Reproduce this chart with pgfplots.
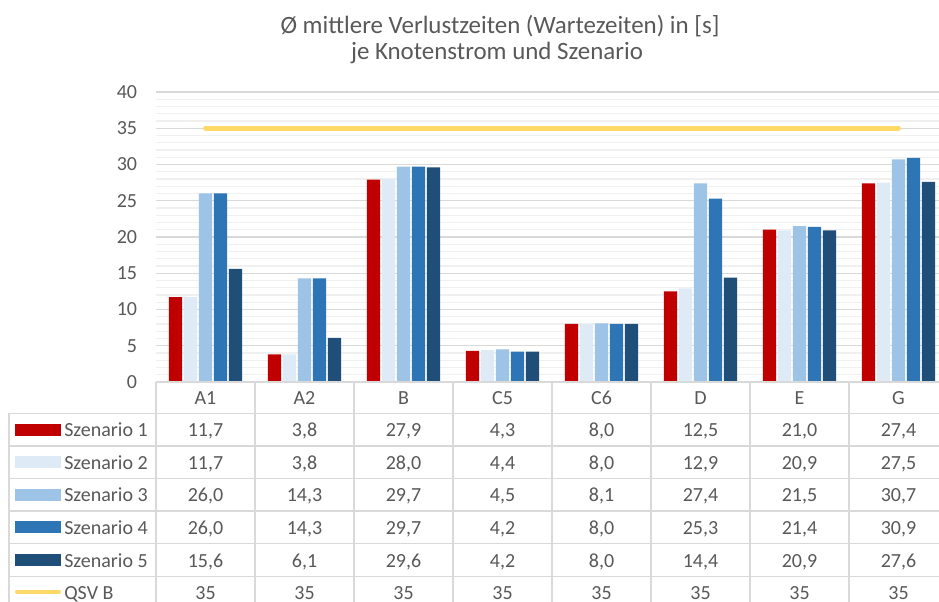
\documentclass[border=0pt]{standalone}
\usepackage{fontspec}
\setmainfont{Carlito}
\usepackage{pgfplots}
\usepackage{pgfplotstable}
\pgfplotsset{compat=1.18}
\definecolor{sA}{HTML}{C00000}
\definecolor{sB}{HTML}{DEEBF7}
\definecolor{sC}{HTML}{9DC3E6}
\definecolor{sD}{HTML}{2E75B6}
\definecolor{sE}{HTML}{1F4E79}
\definecolor{qsv}{HTML}{FFD966}
\definecolor{txt}{HTML}{595959}
\definecolor{gridc}{HTML}{D9D9D9}
\definecolor{mgridc}{HTML}{F0F0F0}

\pgfplotstableread{
x s1 s2 s3 s4 s5 q
0 11.7 11.7 26.0 26.0 15.6 35
1 3.8 3.8 14.3 14.3 6.1 35
2 27.9 28.0 29.7 29.7 29.6 35
3 4.3 4.4 4.5 4.2 4.2 35
4 8.0 8.0 8.1 8.0 8.0 35
5 12.5 12.9 27.4 25.3 14.4 35
6 21.0 20.9 21.5 21.4 20.9 35
7 27.4 27.5 30.7 30.9 27.6 35
}\datatable

\begin{document}
\begin{tikzpicture}
\clip (0pt,0pt) rectangle (704.25pt,-451.5pt);
\fill[white] (0pt,0pt) rectangle (704.25pt,-451.5pt);
\begin{axis}[
  at={(117pt,-286.5pt)}, anchor=south west,
  scale only axis, width=594pt, height=217.5pt,
  xmin=-0.5, xmax=7.5, ymin=0, ymax=40,
  xtick=\empty,
  ytick={0,5,...,40},
  minor y tick num=4,
  ymajorgrids, yminorgrids,
  major grid style={draw=gridc, line width=0.9pt},
  minor grid style={draw=mgridc, line width=0.9pt},
  axis line style={draw=none},
  tick style={draw=none},
  /pgf/number format/assume math mode=true,
  yticklabel style={font=\fontsize{15}{18}\selectfont, text=txt, anchor=east, inner sep=0pt, xshift=-14pt},
  ybar=1.25pt, bar width=10pt,
  clip=false,
]
\addplot[fill=sA, draw=none] table[x=x, y=s1] {\datatable};
\addplot[fill=sB, draw=none] table[x=x, y=s2] {\datatable};
\addplot[fill=sC, draw=none] table[x=x, y=s3] {\datatable};
\addplot[fill=sD, draw=none] table[x=x, y=s4] {\datatable};
\addplot[fill=sE, draw=none] table[x=x, y=s5] {\datatable};
\addplot[sharp plot, draw=qsv, line width=3.6pt, line cap=round, mark=none] table[x=x, y=q] {\datatable};
\end{axis}
\begin{scope}[x=0.75pt, y=-0.75pt]
  % title
  \node[anchor=base, text=txt, font=\fontsize{18.7}{22}\selectfont] at (500,33.3) {Ø mittlere Verlustzeiten (Wartezeiten) in [s]};
  \node[anchor=base, text=txt, font=\fontsize{18.7}{22}\selectfont] at (497,60) {je Knotenstrom und Szenario};
  % table lines
  \begin{scope}[draw=gridc, line width=1pt]
    \draw (156,382) -- (948,382);
    \foreach \yy in {413.3,446,478.5,511,543.7,576.3} \draw (9,\yy) -- (948,\yy);
    \foreach \k in {0,...,8} \draw (156+99*\k,382) -- (156+99*\k,610);
    \draw (9,413.3) -- (9,610);
  \end{scope}
  % header
  \foreach \n [count=\i from 0] in {A1,A2,B,C5,C6,D,E,G}
    \node[anchor=base, text=txt, font=\fontsize{15}{18}\selectfont, inner sep=0pt] at (205.5+99*\i,404.3) {\n};
  % legend keys and row names
  \foreach \c/\nm [count=\r from 0] in {sA/Szenario 1,sB/Szenario 2,sC/Szenario 3,sD/Szenario 4,sE/Szenario 5}{
    \fill[\c] (15,429.6+32.6*\r-6) rectangle (61,429.6+32.6*\r+6);
    \node[anchor=base west, text=txt, font=\fontsize{15}{18}\selectfont, inner sep=0pt] at (64,429.6+32.6*\r+7) {\nm};
  }
  \draw[qsv, line width=3pt, line cap=round] (17,591.6) -- (59,591.6);
  \node[anchor=base west, text=txt, font=\fontsize{15}{18}\selectfont, inner sep=0pt] at (64,592.6+7) {QSV B};
  % values from the data table
  \foreach \col [count=\r from 0] in {s1,s2,s3,s4,s5}{
    \foreach \i in {0,...,7}{
      \pgfplotstablegetelem{\i}{\col}\of{\datatable}
      \node[anchor=base, text=txt, font=\fontsize{15}{18}\selectfont, inner sep=0pt] at (205.5+99*\i,429.6+32.6*\r+7)
        {\pgfmathprintnumber[fixed, fixed zerofill, precision=1, use comma, assume math mode=true]{\pgfplotsretval}};
    }
  }
  \foreach \i in {0,...,7}{
    \pgfplotstablegetelem{\i}{q}\of{\datatable}
    \node[anchor=base, text=txt, font=\fontsize{15}{18}\selectfont, inner sep=0pt] at (205.5+99*\i,592.6+7)
      {\pgfmathprintnumber[fixed, precision=0, assume math mode=true]{\pgfplotsretval}};
  }
\end{scope}
\end{tikzpicture}
\end{document}
